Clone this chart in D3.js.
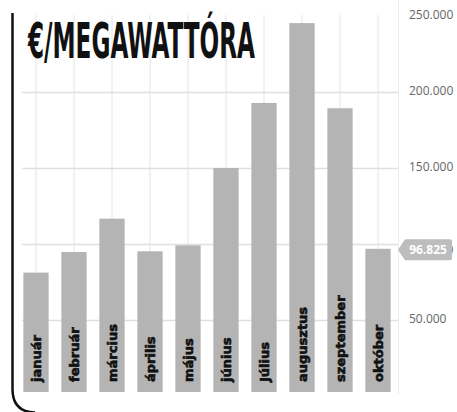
<!DOCTYPE html>
<html>
<head>
<meta charset="utf-8">
<script src="https://cdn.jsdelivr.net/npm/d3@7"></script>
<style>
  body { margin: 0; background: #fff; }
  svg { display: block; }
</style>
</head>
<body>
<svg width="457" height="412"></svg>
<script>
// The data
const months = ['január', 'február', 'március', 'április', 'május', 'június', 'Július', 'augusztus', 'szeptember', 'október'];
const prices = [81200, 94700, 116600, 95200, 99100, 149900, 192600, 245000, 189100, 96825];
const yTicks = [50000, 100000, 150000, 200000, 250000];
const lastLabel = '96.825';

const svg = d3.select('svg'),
  width = +svg.attr('width'),
  height = +svg.attr('height');

const plotBottom = 392;

// Scales
const x = d3
  .scaleBand()
  .domain(months)
  .range([17, 397])
  .paddingInner(0.335)
  .paddingOuter(0.1675);

const y = d3.scaleLinear().domain([0, 250000]).range([396.3, 15.5]);

const fmt = d3.formatLocale({ decimal: ',', thousands: '.', grouping: [3], currency: ['', ''] }).format(',d');

// clip for the bars (they stop a bit above zero)
svg
  .append('clipPath')
  .attr('id', 'plotclip')
  .append('rect')
  .attr('x', 0)
  .attr('y', 0)
  .attr('width', width)
  .attr('height', plotBottom);

// vertical gridlines at the bar centres
svg
  .append('g')
  .selectAll('line')
  .data(months)
  .enter()
  .append('line')
  .attr('x1', d => x(d) + x.bandwidth() / 2)
  .attr('x2', d => x(d) + x.bandwidth() / 2)
  .attr('y1', 15)
  .attr('y2', plotBottom)
  .style('stroke', '#e4e4e4')
  .style('stroke-width', 1);

// horizontal gridlines
svg
  .append('g')
  .selectAll('line')
  .data(yTicks.filter(d => d < 250000))
  .enter()
  .append('line')
  .attr('x1', 22)
  .attr('x2', 398)
  .attr('y1', d => Math.round(y(d)) + 0.5)
  .attr('y2', d => Math.round(y(d)) + 0.5)
  .style('stroke', '#e0e0e0')
  .style('stroke-width', 1.5);

// right axis line
svg
  .append('line')
  .attr('x1', 398.5)
  .attr('x2', 398.5)
  .attr('y1', 0)
  .attr('y2', 394)
  .style('stroke', '#ececec')
  .style('stroke-width', 1);

// bars
svg
  .append('g')
  .attr('clip-path', 'url(#plotclip)')
  .selectAll('rect')
  .data(prices)
  .enter()
  .append('rect')
  .attr('x', (d, i) => x(months[i]))
  .attr('y', d => y(d))
  .attr('width', x.bandwidth())
  .attr('height', d => y(0) - y(d))
  .style('fill', '#b4b4b4');

// month labels inside the bars
svg
  .append('g')
  .selectAll('text')
  .data(months)
  .enter()
  .append('text')
  .attr('transform', d => `translate(${x(d) + x.bandwidth() / 2 + 4.5}, 382) rotate(-90)`)
  .attr('text-anchor', 'start')
  .style('font-family', '"DejaVu Sans", sans-serif')
  .style('font-weight', 'bold')
  .style('font-size', '13px')
  .style('fill', '#111')
  .style('stroke', '#111')
  .style('stroke-width', 0.6)
  .text(d => d);

// y tick labels
svg
  .append('g')
  .selectAll('text')
  .data(yTicks)
  .enter()
  .append('text')
  .attr('x', 409)
  .attr('y', d => (d === 100000 ? y(prices[prices.length - 1]) + 1 : y(d) - 1))
  .attr('dy', '0.35em')
  .style('font-family', '"Open Sans", sans-serif')
  .style('font-size', '12px')
  .style('fill', '#666')
  .text(d => fmt(d));

// value badge for the last bar
const lastY = y(prices[prices.length - 1]) + 1;
const badge = svg.append('g').attr('transform', `translate(398, ${lastY})`);
badge
  .append('path')
  .attr('d', 'M0,0 L7,-10.5 H52 Q54,-10.5 54,-8.5 V8.5 Q54,10.5 52,10.5 H7 Z')
  .style('fill', '#bdbdbd');
badge
  .append('text')
  .attr('x', 30)
  .attr('y', 0)
  .attr('dy', '0.36em')
  .attr('text-anchor', 'middle')
  .style('font-family', '"Open Sans", sans-serif')
  .style('font-weight', 'bold')
  .style('font-size', '12px')
  .style('fill', '#fff')
  .text(lastLabel);

// title
svg
  .append('text')
  .attr('x', 28)
  .attr('y', 58)
  .attr('textLength', 227)
  .attr('lengthAdjust', 'spacingAndGlyphs')
  .style('font-family', '"Liberation Sans Narrow", "DejaVu Sans Condensed", sans-serif')
  .style('font-weight', 'bold')
  .style('font-size', '50px')
  .style('fill', '#111')
  .text('€/MEGAWATTÓRA');

// black frame on the left with rounded corner
svg
  .append('path')
  .attr('d', 'M12.5,13 V389 Q12.5,412 35,412.5')
  .style('fill', 'none')
  .style('stroke', '#111')
  .style('stroke-width', 2.5);
</script>
</body>
</html>
